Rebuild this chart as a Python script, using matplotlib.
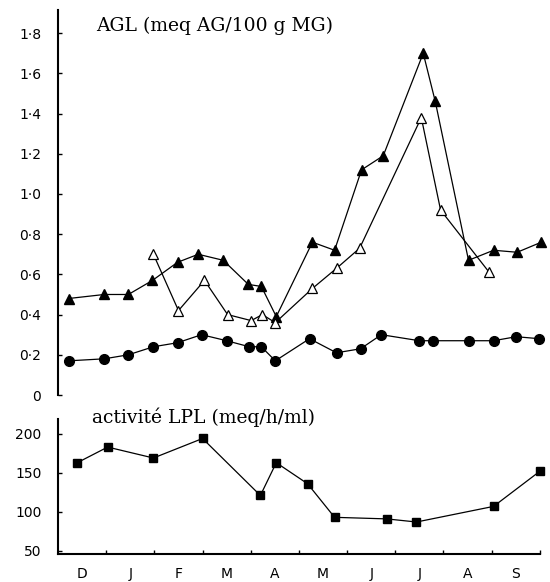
import matplotlib
matplotlib.use("Agg")
import matplotlib.pyplot as plt
from matplotlib.ticker import FuncFormatter

# x positions in months counted from 1 December
tri_x = [0.22, 0.96, 1.46, 1.96, 2.48, 2.91, 3.43, 3.95, 4.22, 4.53,
         5.28, 5.74, 6.30, 6.75, 7.58, 7.83, 8.52, 9.04, 9.53, 10.03]
tri_y = [0.48, 0.50, 0.50, 0.57, 0.66, 0.70, 0.67, 0.55, 0.54, 0.39,
         0.76, 0.72, 1.12, 1.19, 1.70, 1.46, 0.67, 0.72, 0.71, 0.76]

open_x = [1.98, 2.50, 3.04, 3.52, 4.01, 4.24, 4.51, 5.28, 5.78, 6.26,
          7.54, 7.94, 8.95]
open_y = [0.70, 0.42, 0.57, 0.40, 0.37, 0.40, 0.36, 0.53, 0.63, 0.73,
          1.38, 0.92, 0.61]

circ_x = [0.22, 0.96, 1.46, 1.98, 2.48, 2.98, 3.50, 3.97, 4.22, 4.51,
          5.22, 5.78, 6.28, 6.71, 7.50, 7.79, 8.54, 9.04, 9.51, 9.99]
circ_y = [0.17, 0.18, 0.20, 0.24, 0.26, 0.30, 0.27, 0.24, 0.24, 0.17,
          0.28, 0.21, 0.23, 0.30, 0.27, 0.27, 0.27, 0.27, 0.29, 0.28]

lpl_x = [0.40, 1.03, 1.98, 3.00, 4.20, 4.53, 5.18, 5.74, 6.82, 7.44, 9.04, 10.0]
lpl_y = [163, 183, 169, 194, 121, 163, 136, 93, 91, 87, 107, 152]

months = ["D", "J", "F", "M", "A", "M", "J", "J", "A", "S"]

fig = plt.figure(figsize=(5.5, 5.82), dpi=100)
serif = "DejaVu Serif"


def dot_fmt(v, pos):
    if abs(v) < 1e-9:
        return "0"
    return ("%.1f" % v).replace(".", "\u00b7")


# top panel
ax1 = fig.add_axes([0.1055, 0.3213, 0.876, 0.6615])
ax1.plot(tri_x, tri_y, color="black", lw=0.9, marker="^", ms=7.5,
         mfc="black", mec="black", clip_on=False)
ax1.plot(open_x, open_y, color="black", lw=0.9, marker="^", ms=7.5,
         mfc="white", mec="black", mew=0.9, clip_on=False)
ax1.plot(circ_x, circ_y, color="black", lw=0.9, marker="o", ms=7,
         mfc="black", mec="black", clip_on=False)
ax1.set_xlim(0, 10)
ax1.set_ylim(0, 1.915)
ax1.set_yticks([0, 0.2, 0.4, 0.6, 0.8, 1.0, 1.2, 1.4, 1.6, 1.8])
ax1.yaxis.set_major_formatter(FuncFormatter(dot_fmt))
ax1.set_xticks([])
for s in ["top", "right", "bottom"]:
    ax1.spines[s].set_visible(False)
ax1.spines["left"].set_linewidth(1.5)
ax1.tick_params(axis="y", direction="in", length=3, width=1, labelsize=10,
                pad=12)
ax1.text(0.08, 0.96, "AGL (meq AG/100 g MG)", transform=ax1.transAxes,
         family=serif, fontsize=13.5, va="center", ha="left")

# bottom panel
ax2 = fig.add_axes([0.1055, 0.0481, 0.876, 0.232])
ax2.plot(lpl_x, lpl_y, color="black", lw=0.9, marker="s", ms=6,
         mfc="black", mec="black", clip_on=False)
ax2.set_xlim(0, 10)
ax2.set_ylim(46, 219)
ax2.set_yticks([50, 100, 150, 200])
ax2.set_xticks(range(1, 11))
ax2.set_xticklabels([])
ax2.set_xticks([m + 0.5 for m in range(10)], minor=True)
ax2.set_xticklabels(months, minor=True)
ax2.tick_params(axis="x", which="minor", length=0, labelsize=10, pad=9)
ax2.tick_params(axis="x", which="major", direction="in", length=3, width=1)
ax2.tick_params(axis="y", direction="in", length=3, width=1, labelsize=10,
                pad=12)
for s in ["top", "right"]:
    ax2.spines[s].set_visible(False)
ax2.spines["left"].set_linewidth(1.5)
ax2.spines["bottom"].set_linewidth(1.5)
fig.text(0.168, 1 - 417 / 582, "activit\u00e9 LPL (meq/h/ml)", family=serif,
         fontsize=13.5, va="center", ha="left")

fig.savefig("out.png", dpi=100)
